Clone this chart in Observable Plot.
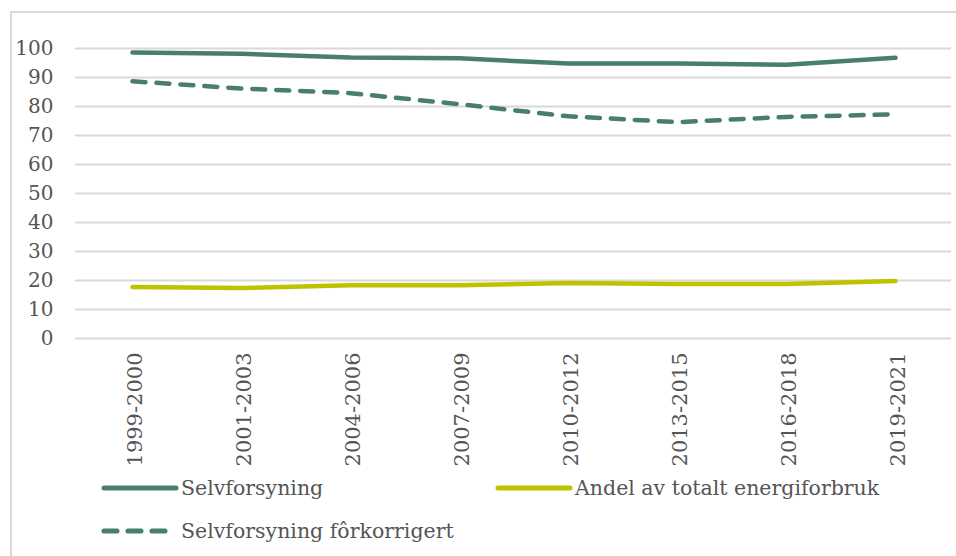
<!DOCTYPE html>
<html>
<head>
<meta charset="utf-8">
<script src="https://cdn.jsdelivr.net/npm/d3@7"></script>
<script src="https://cdn.jsdelivr.net/npm/@observablehq/plot@0.6"></script>
<style>
  html, body { margin: 0; padding: 0; background: #fff; }
  body { width: 956px; height: 556px; position: relative; overflow: hidden; font-family: "DejaVu Serif", serif; }
  #frame { position: absolute; left: 10px; top: 11px; right: -10px; bottom: -10px; border-top: 2px solid #d9d9d9; border-left: 2px solid #d9d9d9; }
  #chart { position: absolute; left: 0; top: 0; }
  #legend { position: absolute; left: 101px; top: 470px; display: grid; grid-template-columns: 394px 400px; grid-auto-rows: 43px; color: #555555; font-size: 20.5px; font-family: "DejaVu Serif", serif; }
  .item { display: flex; align-items: center; height: 36px; }
  .item svg { margin-right: 0; flex: none; }
</style>
</head>
<body>
<div id="frame"></div>
<div id="chart"></div>
<div id="legend"></div>
<script>
const periods = ["1999-2000","2001-2003","2004-2006","2007-2009","2010-2012","2013-2015","2016-2018","2019-2021"];
const selvforsyning = [98.6, 98.2, 96.9, 96.6, 94.8, 94.8, 94.4, 96.8];
const andelTotalt = [17.8, 17.4, 18.4, 18.4, 19.1, 18.8, 18.8, 19.8];
const selvforsyningForkorrigert = [88.7, 86.2, 84.6, 80.8, 76.6, 74.6, 76.4, 77.3];
const seriesNames = ["Selvforsyning", "Andel av totalt energiforbruk", "Selvforsyning fôrkorrigert"];
const yTicks = [0,10,20,30,40,50,60,70,80,90,100];

const teal = "#487d72";
const lime = "#bec300";

const toRows = (vals) => periods.map((p, i) => ({period: p, value: vals[i]}));

const chart = Plot.plot({
  width: 956,
  height: 470,
  marginLeft: 75,
  marginRight: 5,
  marginTop: 48,
  marginBottom: 132,
  style: {fontFamily: "DejaVu Serif, serif", color: "#555555", background: "transparent", overflow: "visible"},
  x: {type: "point", domain: periods, padding: 0.5, label: null},
  y: {domain: [0, 100], label: null},
  marks: [
    Plot.ruleY(yTicks, {stroke: "#d9d9d9", strokeWidth: 2}),
    Plot.axisY({ticks: yTicks, tickSize: 0, tickPadding: 22, fontSize: 20, label: null, fill: "#555555"}),
    Plot.axisX({tickSize: 0, tickPadding: 14, tickRotate: -90, fontSize: 21, label: null, fill: "#555555", dx: 3}),
    Plot.line(toRows(andelTotalt), {x: "period", y: "value", stroke: lime, strokeWidth: 4.5, strokeLinecap: "round"}),
    Plot.line(toRows(selvforsyningForkorrigert), {x: "period", y: "value", stroke: teal, strokeWidth: 4.5, strokeLinecap: "round", strokeDasharray: "13,11"}),
    Plot.line(toRows(selvforsyning), {x: "period", y: "value", stroke: teal, strokeWidth: 4.5, strokeLinecap: "round"})
  ]
});
document.getElementById("chart").appendChild(chart);

const legendItems = [
  {name: seriesNames[0], color: teal, dash: null},
  {name: seriesNames[1], color: lime, dash: null},
  {name: seriesNames[2], color: teal, dash: "13,11"}
];
const legend = document.getElementById("legend");
legendItems.forEach(it => {
  const d = document.createElement("div");
  d.className = "item";
  d.innerHTML = `<svg width="80" height="8"><line x1="3" y1="4" x2="${it.dash ? 69 : 75}" y2="4" stroke="${it.color}" stroke-width="5" stroke-linecap="round" ${it.dash ? `stroke-dasharray="${it.dash}"` : ""}/></svg><span>${it.name}</span>`;
  legend.appendChild(d);
});
</script>
</body>
</html>
